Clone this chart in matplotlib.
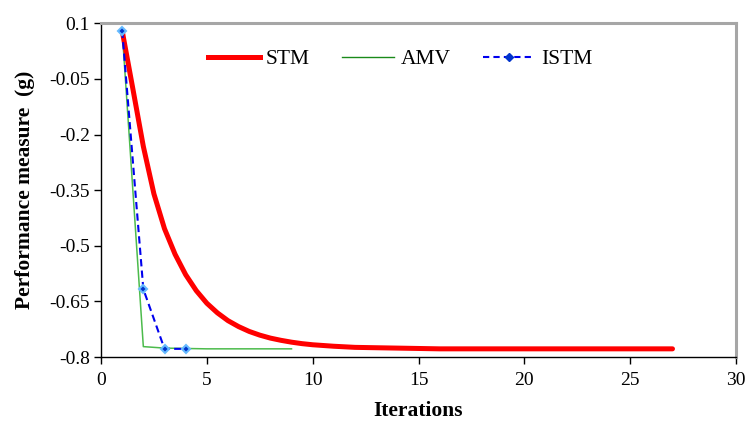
import matplotlib
matplotlib.use("Agg")
import matplotlib.pyplot as plt
from matplotlib.lines import Line2D

# STM (smooth decay)
stm_x = [1, 1.5, 2, 2.5, 3, 3.5, 4, 4.5, 5, 5.5, 6, 6.5, 7, 7.5, 8, 8.5, 9, 9.5, 10,
         11, 12, 13, 14, 15, 16, 17, 18, 19, 20, 21, 22, 23, 24, 25, 26, 27]
stm_y = [0.08, -0.075, -0.232, -0.36, -0.454, -0.523, -0.578, -0.621, -0.655, -0.681,
         -0.702, -0.718, -0.731, -0.741, -0.749, -0.755, -0.760, -0.764, -0.767,
         -0.771, -0.774, -0.775, -0.776, -0.777, -0.778, -0.778, -0.778, -0.778,
         -0.778, -0.778, -0.778, -0.778, -0.778, -0.778, -0.778, -0.778]

amv_x = [1, 2, 3, 4, 5, 6, 7, 8, 9]
amv_y = [0.08, -0.772, -0.776, -0.777, -0.778, -0.778, -0.778, -0.778, -0.778]

istm_x = [1, 2, 3, 4]
istm_y = [0.08, -0.617, -0.778, -0.778]

xticks = [0, 5, 10, 15, 20, 25, 30]
yticks = [0.1, -0.05, -0.2, -0.35, -0.5, -0.65, -0.8]
ytick_labels = ["0.1", "-0.05", "-0.2", "-0.35", "-0.5", "-0.65", "-0.8"]

plt.rcParams['font.family'] = ['Liberation Serif', 'DejaVu Serif']

fig = plt.figure(figsize=(7.46, 4.23), dpi=100)
ax = fig.add_axes([101 / 746, 1 - 357 / 423, (736 - 101) / 746, (357 - 23.3) / 423])

ax.plot(stm_x, stm_y, color='#ff0000', lw=3.6, solid_capstyle='round',
        solid_joinstyle='round', zorder=3)
ax.plot(amv_x, amv_y, color='#4cbb4c', lw=1.1, zorder=2)
ax.plot(istm_x, istm_y, color='#0000ee', lw=1.5, ls=(0, (3.5, 2)), marker='D', ms=4.5,
        mfc='#0033cc', mec='#66bbff', mew=1.5, zorder=4)

ax.set_xlim(0, 30)
ax.set_ylim(-0.8, 0.1)
ax.set_xticks(xticks)
ax.set_xticklabels([str(t) for t in xticks])
ax.set_yticks(yticks)
ax.set_yticklabels(ytick_labels)
ax.tick_params(axis='both', direction='out', length=5, width=1, labelsize=14, color='black')
ax.tick_params(axis='x', pad=6)
ax.tick_params(axis='y', pad=3)

for s in ['top', 'right']:
    ax.spines[s].set_color('#a6a6a6')
    ax.spines[s].set_linewidth(2.2)
for s in ['left', 'bottom']:
    ax.spines[s].set_color('black')
    ax.spines[s].set_linewidth(1.0)

ax.set_xlabel('Iterations', fontsize=15.5, fontweight='bold')
ax.set_ylabel('Performance measure  (g)', fontsize=15.5, fontweight='bold')
ax.xaxis.set_label_coords(0.5, (357 - 401) / 333.7, transform=ax.transAxes)
ax.yaxis.set_label_coords((35 - 101) / 635, 0.5, transform=ax.transAxes)

handles = [
    Line2D([], [], color='#ff0000', lw=3.6),
    Line2D([], [], color='#1a8a1a', lw=1.0),
    Line2D([], [], color='#0000ee', lw=1.5, ls=(0, (3, 2)), marker='D', ms=4, mfc='#0033cc', mec='#0033cc'),
]
ax.legend(handles, ['STM', 'AMV', 'ISTM'], ncol=3, loc='center',
          bbox_to_anchor=((400 - 101) / 635, 1 - 36 / 333.7),
          frameon=False, fontsize=15.5, handlelength=2.4, handletextpad=0.3, columnspacing=1.5)

fig.savefig('out.png', dpi=100)
